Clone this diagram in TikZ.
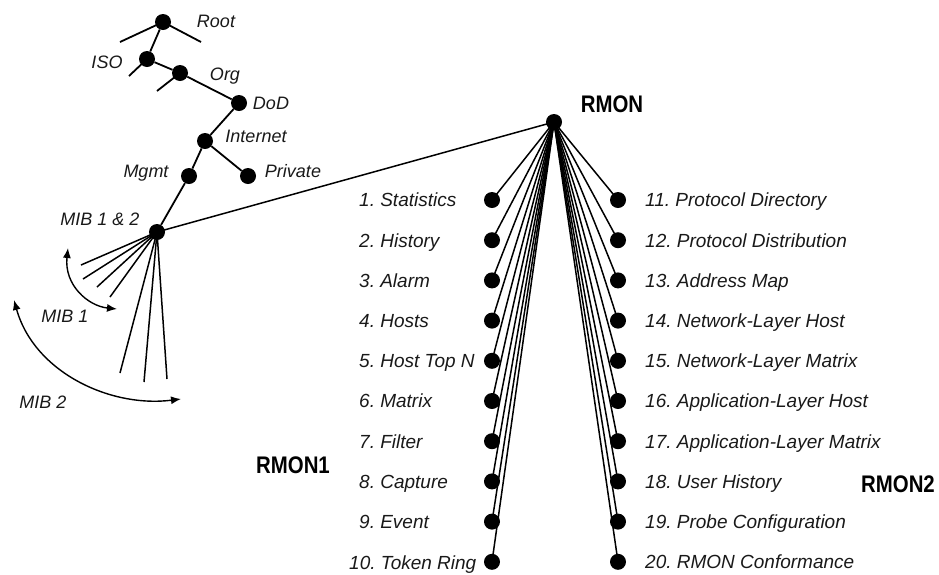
\documentclass[tikz,border=0pt]{standalone}
\usepackage{fontspec}
\setmainfont{Liberation Sans}
\newfontfamily\condsans[FakeStretch=0.85]{Liberation Sans}
\usetikzlibrary{arrows.meta}
\begin{document}
\frenchspacing
\begin{tikzpicture}[x=1pt,y=-1pt,
  dot/.style={circle,fill=black,inner sep=0pt,minimum size=16pt},
  lbl/.style={font=\fontsize{19}{22}\selectfont\itshape,inner sep=0pt,text=black!90,text height=13.6pt,text depth=0pt},
  tlbl/.style={font=\fontsize{18}{21}\selectfont\itshape,inner sep=0pt,text=black!90,text height=12.9pt,text depth=0pt},
  head/.style={font=\condsans\bfseries\fontsize{24}{26}\selectfont,inner sep=0pt,text height=17.2pt,text depth=0pt},
  tree/.style={line width=1.8pt},
  fan/.style={line width=1.5pt},
  arc/.style={line width=1.4pt,{Latex[length=10pt,width=8pt]}-{Latex[length=10pt,width=8pt]}}]
\useasboundingbox (0,0) rectangle (939,574);

% tree
\node[dot] (root) at (163,22) {};
\node[dot] (iso) at (147,59) {};
\node[dot] (org) at (180,73) {};
\node[dot] (dod) at (239,103) {};
\node[dot] (inet) at (205,141) {};
\node[dot] (priv) at (248,176) {};
\node[dot] (mgmt) at (189,176) {};
\node[dot] (mib) at (157,232) {};
\node[dot] (rmon) at (554,122) {};

\coordinate (rl) at (120,42);
\coordinate (rr) at (201,42);
\coordinate (isos) at (129,76);
\coordinate (orgs) at (157,91);

\draw[tree] (rl) -- (root.center) -- (rr);
\draw[tree] (root) -- (iso);
\draw[tree] (iso.center) -- (isos);
\draw[tree] (iso) -- (org) -- (dod) -- (inet) -- (priv);
\draw[tree] (org.center) -- (orgs);
\draw[tree] (inet) -- (mgmt) -- (mib);
\draw[fan] (mib.center) -- (rmon.center);

\node[tlbl] (lroot) at (216,21) {Root};
\node[tlbl] (liso) at (107,62) {ISO};
\node[tlbl] (lorg) at (225,74) {Org};
\node[tlbl] (ldod) at (271,103) {DoD};
\node[tlbl] (linet) at (256,136) {Internet};
\node[tlbl] (lpriv) at (293,171) {Private};
\node[tlbl] (lmgmt) at (146,171) {Mgmt};
\node[tlbl] (lmib) at (100,219) {MIB 1 \& 2};
\node[tlbl] (lmib1) at (65,316) {MIB 1};
\node[tlbl] (lmib2) at (43,402) {MIB 2};

% MIB fan
\coordinate (m1) at (81,265);
\coordinate (m2) at (83,279);
\coordinate (m3) at (97,287);
\coordinate (m4) at (110,297);
\coordinate (m5) at (120,373);
\coordinate (m6) at (144,382);
\coordinate (m7) at (167,379);
\foreach \m in {m1,m2,m3,m4,m5,m6,m7} \draw[fan] (mib.center) -- (\m);

% arcs
\coordinate (a1s) at (68,248);
\coordinate (a1e) at (117,309);
\coordinate (a2s) at (14,300);
\coordinate (a2e) at (181,399);
\draw[arc] (a1s) .. controls (64,285) and (88,306) .. (a1e);
\draw[arc] (a2s) .. controls (34,372) and (110,408) .. (a2e);

% RMON
\node[head] (lrmon) at (612,104) {RMON};
\node[head] (lrmon1) at (293,465) {RMON1};
\node[head] (lrmon2) at (898,484) {RMON2};

\foreach \t [count=\i] in {Statistics,History,Alarm,Hosts,Host Top N,Matrix,Filter,Capture,Event,Token Ring} {
  \pgfmathsetmacro\yy{200+40.2*(\i-1)}
  \node[dot] (a\i) at (492,\yy) {};
  \draw[fan] (rmon.center) -- (a\i.center);
}
\foreach \t [count=\i] in {Statistics,History,Alarm,Hosts,Host Top N,Matrix,Filter,Capture,Event} {
  \pgfmathsetmacro\yy{200+40.2*(\i-1)}
  \node[lbl,anchor=west] (la\i) at (359,\yy) {\i. \t};
}
\node[lbl,anchor=west] (la10) at (349,563) {10. Token Ring};

\foreach \t [count=\i from 11] in {Protocol Directory,Protocol Distribution,Address Map,Network-Layer Host,Network-Layer Matrix,Application-Layer Host,Application-Layer Matrix,User History,Probe Configuration,RMON Conformance} {
  \pgfmathsetmacro\yy{200+40.2*(\i-11)}
  \node[dot] (b\i) at (618,\yy) {};
  \draw[fan] (rmon.center) -- (b\i.center);
  \node[lbl,anchor=west] (lb\i) at (645,\yy) {\i. \t};
}
\end{tikzpicture}
\end{document}
